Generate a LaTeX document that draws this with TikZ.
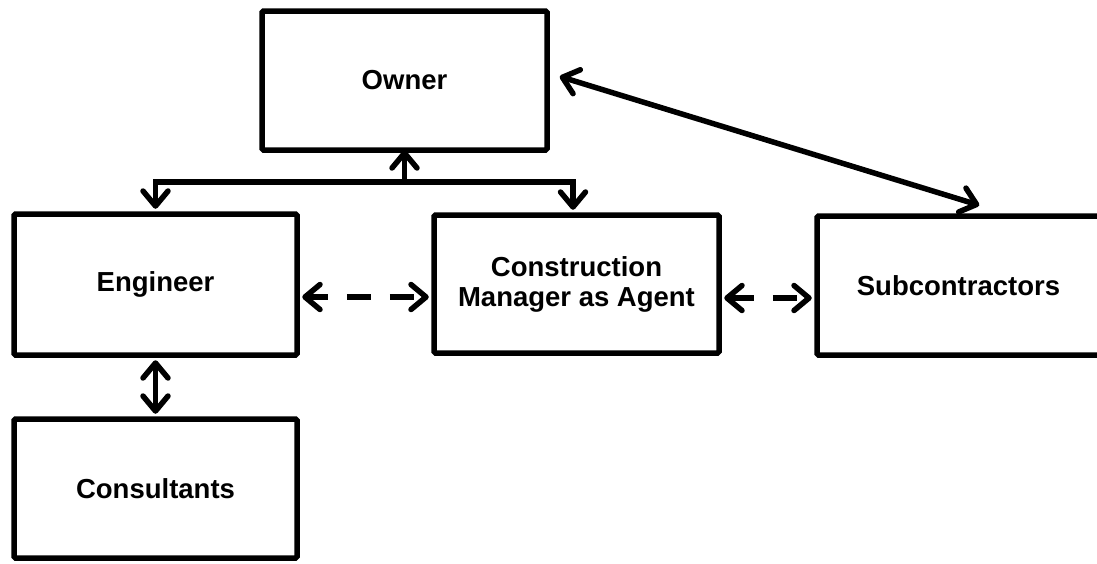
\documentclass[tikz,border=0pt]{standalone}
\usepackage{fontspec}
\setmainfont{Liberation Sans}
\usetikzlibrary{arrows.meta,calc}
\begin{document}
\begin{tikzpicture}[x=1pt,y=-1pt,
  barb/.tip={Straight Barb[length=15pt,width=25pt,line width=5.5pt,line cap=round,line join=round]},
  party/.style={draw=black,line width=5.5pt,rounded corners=1.5pt,inner sep=0pt,
    align=center,font=\fontsize{27.5}{30}\selectfont\bfseries},
  link/.style={line width=5.5pt,line cap=round,barb-barb},
  uplink/.style={line width=5.5pt,line cap=round,-barb},
  dashlink/.style={link,line cap=butt,dash pattern=on 24pt off 19pt}]
\useasboundingbox (0,0) rectangle (1097,563);
\fill[white] (0,0) rectangle (1097,563);

\node[party,minimum width=285pt,minimum height=139pt] (owner) at (404.5,80.5) {Owner};
\node[party,minimum width=283pt,minimum height=141pt] (eng) at (155.5,284.5) {Engineer};
\node[party,minimum width=285pt,minimum height=138pt] (cm) at (576.5,284) {Construction\\Manager as Agent};
\node[party,minimum width=283pt,minimum height=139pt] (sub) at (958.5,285.5) {Subcontractors};
\node[party,minimum width=283pt,minimum height=139pt] (cons) at (155.5,488.5) {Consultants};

% distribution bus below the owner
\coordinate (bus) at (404.5,182);
\draw[uplink] (bus) -- ($(owner.south)+(0,-2.5)$);
\draw[link] ($(eng.north)+(0,-2.5)$) |- (bus) -| ($(cm.north)+(-3.5,-2.5)$);

% owner <-> subcontractors
\draw[link] ($(owner.east)+(10,-4)$) -- ($(sub.north west)+(165,-8)$);

% dashed coordination links
\draw[dashlink,dash phase=4pt] ($(eng.east)+(2.5,12.5)$) -- ($(cm.west)+(-2.5,13)$);
\draw[dashlink] ($(cm.east)+(2.5,14)$) -- ($(sub.west)+(-2.5,12.5)$);

% engineer <-> consultants
\draw[link] ($(eng.south)+(0,2.5)$) -- ($(cons.north)+(0,-2.5)$);
\end{tikzpicture}
\end{document}
